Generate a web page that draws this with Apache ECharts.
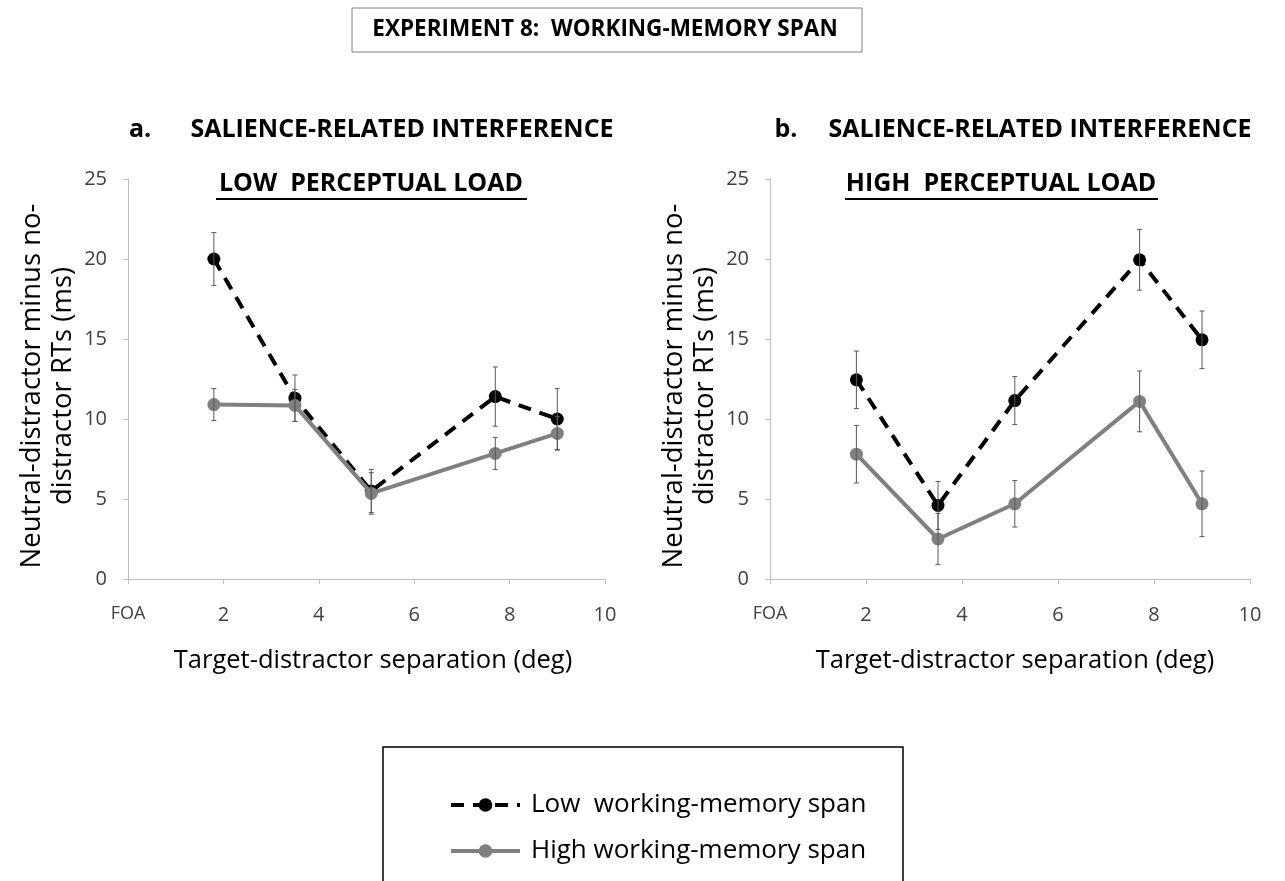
<!DOCTYPE html>
<html>
<head>
<meta charset="utf-8">
<script src="https://cdn.jsdelivr.net/npm/echarts@6/dist/echarts.min.js"></script>
<style>
html,body{margin:0;padding:0;background:#fff;}
#chart{width:1285px;height:881px;}
</style>
</head>
<body>
<div id="chart"></div>
<script>
// ---- data ----
const xSeparation = [1.8, 3.5, 5.1, 7.7, 9.0];
const seriesNames = ['Low  working-memory span', 'High working-memory span'];
// Low perceptual load (panel a)
const lowLoadLowSpan = [20.0, 11.3, 5.5, 11.4, 10.0];
const lowLoadLowSpanErr = [1.65, 1.45, 1.35, 1.85, 1.9];
const lowLoadHighSpan = [10.9, 10.85, 5.35, 7.85, 9.1];
const lowLoadHighSpanErr = [1.0, 1.0, 1.3, 1.0, 1.05];
// High perceptual load (panel b)
const highLoadLowSpan = [12.45, 4.6, 11.15, 19.95, 14.95];
const highLoadLowSpanErr = [1.8, 1.5, 1.5, 1.9, 1.8];
const highLoadHighSpan = [7.8, 2.5, 4.7, 11.1, 4.7];
const highLoadHighSpanErr = [1.8, 1.6, 1.45, 1.9, 2.05];
// axis ticks
const xTickLabels = {0: 'FOA', 2: '2', 4: '4', 6: '6', 8: '8', 10: '10'};
const yTicks = [0, 5, 10, 15, 20, 25];

const FONT = 'Open Sans';
const chart = echarts.init(document.getElementById('chart'));

function pts(xs, ys) { return xs.map((x, i) => [x, ys[i]]); }
function errData(xs, ys, es) { return xs.map((x, i) => [x, ys[i] - es[i], ys[i] + es[i]]); }

function errSeries(idx, xs, ys, es) {
  return {
    type: 'custom', xAxisIndex: idx, yAxisIndex: idx, z: 5, silent: true,
    data: errData(xs, ys, es),
    renderItem: function (params, api) {
      const lo = api.coord([api.value(0), api.value(1)]);
      const hi = api.coord([api.value(0), api.value(2)]);
      const c = 2.5;
      const st = {stroke: '#595959', lineWidth: 1};
      return {type: 'group', children: [
        {type: 'line', shape: {x1: lo[0], y1: lo[1], x2: hi[0], y2: hi[1]}, style: st},
        {type: 'line', shape: {x1: lo[0] - c, y1: lo[1], x2: lo[0] + c, y2: lo[1]}, style: st},
        {type: 'line', shape: {x1: hi[0] - c, y1: hi[1], x2: hi[0] + c, y2: hi[1]}, style: st}
      ]};
    }
  };
}

function lowSeries(idx, data) {
  return {
    name: seriesNames[0], type: 'line', xAxisIndex: idx, yAxisIndex: idx, z: 2,
    data: data, symbol: 'circle', symbolSize: 13,
    lineStyle: {color: '#000', width: 4, type: [13, 9]},
    itemStyle: {color: '#000'}
  };
}
function highSeries(idx, data) {
  return {
    name: seriesNames[1], type: 'line', xAxisIndex: idx, yAxisIndex: idx, z: 3,
    data: data, symbol: 'circle', symbolSize: 13,
    lineStyle: {color: '#808080', width: 4},
    itemStyle: {color: '#808080'}
  };
}

function xAxisCfg(gi) {
  return {
    gridIndex: gi, type: 'value', min: 0, max: 10, interval: 2,
    axisLine: {lineStyle: {color: '#bfbfbf', width: 1}},
    axisTick: {show: true, length: 5, lineStyle: {color: '#bfbfbf'}},
    splitLine: {show: false},
    axisLabel: {
      margin: 26, color: '#404040', fontFamily: FONT, fontSize: 20,
      formatter: v => v === 0 ? '{f|' + xTickLabels[v] + '}' : (xTickLabels[v] || ''),
      rich: {f: {fontSize: 18, fontFamily: FONT, color: '#404040', padding: [0, 0, 4, 0]}}
    }
  };
}
function yAxisCfg(gi) {
  return {
    gridIndex: gi, type: 'value', min: yTicks[0], max: yTicks[yTicks.length - 1], interval: 5,
    axisLine: {show: true, lineStyle: {color: '#bfbfbf', width: 1}},
    axisTick: {show: true, length: 5, lineStyle: {color: '#bfbfbf'}},
    splitLine: {show: false},
    axisLabel: {margin: 21, color: '#404040', fontFamily: FONT, fontSize: 20}
  };
}

function txt(x, y, text, size, bold, extra, lh) {
  return Object.assign({
    type: 'text', x: x, y: y, silent: true,
    style: {text: text, fill: '#000', font: (bold ? 'bold ' : '') + size + 'px "' + FONT + '"',
      align: 'center', verticalAlign: 'middle', lineHeight: lh || Math.round(size * 1.25)}
  }, extra || {});
}

const option = {
  backgroundColor: '#fff',
  animation: false,
  grid: [
    {left: 128, top: 179, width: 477, height: 400},
    {left: 770, top: 179, width: 480, height: 400}
  ],
  xAxis: [xAxisCfg(0), xAxisCfg(1)],
  yAxis: [yAxisCfg(0), yAxisCfg(1)],
  legend: {
    data: seriesNames, orient: 'vertical', left: 444, top: 785,
    itemWidth: 69, itemHeight: 17, itemGap: 16,
    lineStyle: {width: 'inherit'},
    textStyle: {fontFamily: FONT, fontSize: 26, color: '#000', lineHeight: 30, padding: [0, 0, 0, 6]},
    selectedMode: false
  },
  series: [
    lowSeries(0, pts(xSeparation, lowLoadLowSpan)),
    highSeries(0, pts(xSeparation, lowLoadHighSpan)),
    errSeries(0, xSeparation, lowLoadLowSpan, lowLoadLowSpanErr),
    errSeries(0, xSeparation, lowLoadHighSpan, lowLoadHighSpanErr),
    lowSeries(1, pts(xSeparation, highLoadLowSpan)),
    highSeries(1, pts(xSeparation, highLoadHighSpan)),
    errSeries(1, xSeparation, highLoadLowSpan, highLoadLowSpanErr),
    errSeries(1, xSeparation, highLoadHighSpan, highLoadHighSpanErr)
  ],
  graphic: [
    {type: 'rect', shape: {x: 352, y: 8, width: 510, height: 44}, style: {fill: 'none', stroke: '#808080', lineWidth: 1}, silent: true},
    txt(605, 30, 'EXPERIMENT 8:  WORKING-MEMORY SPAN', 22.5, true),
    txt(140, 130, 'a.', 25, true),
    txt(402, 130, 'SALIENCE-RELATED INTERFERENCE', 25, true),
    txt(786, 130, 'b.', 25, true),
    txt(1040, 130, 'SALIENCE-RELATED INTERFERENCE', 25, true),
    txt(371, 184, 'LOW  PERCEPTUAL LOAD', 25, true),
    {type: 'line', shape: {x1: 216, y1: 199, x2: 527, y2: 199}, style: {stroke: '#000', lineWidth: 2}, silent: true},
    txt(1001, 184, 'HIGH  PERCEPTUAL LOAD', 25, true),
    {type: 'line', shape: {x1: 845, y1: 199, x2: 1158, y2: 199}, style: {stroke: '#000', lineWidth: 2}, silent: true},
    txt(48, 386, 'Neutral-distractor minus no-\ndistractor RTs (ms)', 27.5, false, {rotation: Math.PI / 2}, 31),
    txt(690, 386, 'Neutral-distractor minus no-\ndistractor RTs (ms)', 27.5, false, {rotation: Math.PI / 2}, 31),
    txt(373, 661, 'Target-distractor separation (deg)', 25.5, false),
    txt(1015, 661, 'Target-distractor separation (deg)', 25.5, false),
    {type: 'rect', shape: {x: 383, y: 747, width: 520, height: 200}, style: {fill: 'none', stroke: '#000', lineWidth: 1.5}, silent: true, z: -1}
  ]
};
chart.setOption(option);
</script>
</body>
</html>
